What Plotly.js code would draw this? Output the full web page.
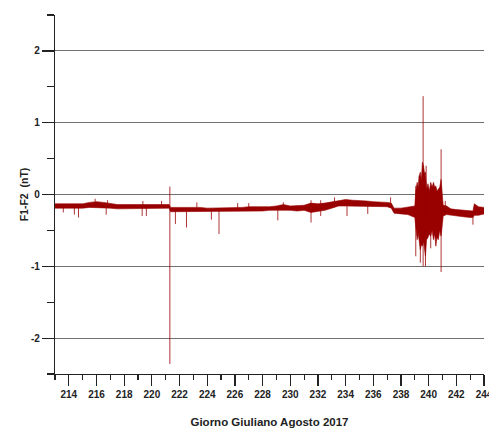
<!DOCTYPE html>
<html>
<head>
<meta charset="utf-8">
<script src="https://cdn.plot.ly/plotly-3.0.1.min.js"></script>
<style>html,body{margin:0;padding:0;background:#fff;}#chart{width:489px;height:428px;}</style>
</head>
<body>
<div id="chart"></div>
<script>
// Envelope of the F1-F2 record (Julian day, lower edge, upper edge), nT
var bandDays = [213.0,213.5,214.0,214.5,215.0,215.5,216.0,216.5,217.0,217.5,218.0,218.5,219.0,219.5,220.0,220.5,221.0,221.25,
  221.35,221.5,222.0,222.5,223.0,223.5,224.0,224.5,225.0,225.5,226.0,226.5,227.0,227.5,228.0,228.5,229.0,229.5,230.0,230.5,231.0,
  231.5,232.0,232.5,233.0,233.5,234.0,234.5,235.0,235.5,236.0,236.5,237.0,237.3,237.5,238.0,238.5,
  239.0,239.07,239.17,239.25,239.3,239.4,239.47,239.55,239.63,239.7,239.77,239.85,239.95,240.05,240.15,240.25,240.35,240.44,
  240.52,240.6,240.7,240.8,240.9,241.0,241.05,241.3,241.6,242.0,242.5,243.0,243.2,243.3,243.6,244.0];
var bandLow = [-0.19,-0.19,-0.20,-0.20,-0.19,-0.18,-0.18,-0.18,-0.19,-0.20,-0.20,-0.20,-0.20,-0.20,-0.19,-0.19,-0.19,-0.19,
  -0.24,-0.24,-0.24,-0.24,-0.23,-0.24,-0.24,-0.24,-0.24,-0.24,-0.24,-0.24,-0.23,-0.23,-0.23,-0.22,-0.22,-0.21,-0.22,-0.23,-0.22,
  -0.25,-0.24,-0.22,-0.19,-0.16,-0.16,-0.16,-0.16,-0.17,-0.17,-0.17,-0.17,-0.19,-0.26,-0.27,-0.28,
  -0.32,-0.45,-0.63,-0.55,-0.63,-0.77,-0.70,-0.72,-0.65,-0.80,-0.86,-0.63,-0.60,-0.55,-0.58,-0.50,-0.63,-0.55,
  -0.72,-0.60,-0.63,-0.50,-0.58,-0.40,-0.30,-0.28,-0.29,-0.30,-0.31,-0.32,-0.32,-0.29,-0.29,-0.27];
var bandHigh = [-0.13,-0.13,-0.14,-0.14,-0.13,-0.11,-0.10,-0.11,-0.13,-0.14,-0.14,-0.14,-0.14,-0.14,-0.14,-0.13,-0.13,-0.14,
  -0.18,-0.18,-0.18,-0.18,-0.17,-0.18,-0.19,-0.19,-0.19,-0.19,-0.18,-0.18,-0.17,-0.17,-0.18,-0.17,-0.16,-0.14,-0.16,-0.16,-0.15,
  -0.12,-0.13,-0.12,-0.10,-0.08,-0.07,-0.08,-0.08,-0.09,-0.10,-0.10,-0.11,-0.12,-0.19,-0.19,-0.18,
  -0.16,0.05,0.17,0.10,0.25,0.31,0.20,0.45,0.40,0.30,0.31,0.07,0.15,0.05,0.17,0.10,0.17,0.10,
  0.12,0.05,0.07,0.10,0.21,0.00,-0.15,-0.16,-0.20,-0.21,-0.22,-0.22,-0.23,-0.13,-0.17,-0.18];

// Isolated spikes (Julian day, bottom, top), nT
var spikeDays = [221.3,239.6,240.9,213.6,214.4,214.7,215.9,216.7,216.8,219.3,219.35,219.6,220.7,221.7,222.5,223.25,224.3,224.85,
  226.2,227.0,229.1,229.5,231.5,232.2,233.2,234.1,235.6,237.25,243.2,
  239.07,239.4,239.77,239.82,240.15,241.2];
var spikeLow = [-2.36,-1.00,-1.08,-0.25,-0.28,-0.32,-0.15,-0.28,-0.16,-0.30,-0.16,-0.30,-0.16,-0.41,-0.46,-0.18,-0.35,-0.55,
  -0.20,-0.18,-0.36,-0.20,-0.39,-0.30,-0.15,-0.30,-0.27,-0.14,-0.42,
  -0.86,-0.95,-1.00,-0.30,-0.75,-0.28];
var spikeHigh = [0.11,1.37,0.63,-0.16,-0.17,-0.17,-0.06,-0.16,-0.08,-0.17,-0.09,-0.17,-0.09,-0.20,-0.20,-0.11,-0.20,-0.20,
  -0.12,-0.12,-0.18,-0.11,-0.08,-0.08,-0.04,-0.12,-0.12,-0.04,-0.25,
  0.12,0.20,0.20,0.40,0.10,-0.09];

var yTickVals = [-2, -1, 0, 1, 2];
var yTickText = ['-2', '-1', '0', '1', '2'];

var xTitle = 'Giorno Giuliano Agosto 2017';
var yTitle = 'F1-F2\u00a0 (nT)';

var red = '#990000';
var sx = [], sy = [];
for (var i = 0; i < spikeDays.length; i++) {
  sx.push(spikeDays[i], spikeDays[i], null);
  sy.push(spikeLow[i], spikeHigh[i], null);
}

var traces = [
  {x: bandDays, y: bandLow, mode: 'lines', line: {color: red, width: 0.6}, hoverinfo: 'skip'},
  {x: bandDays, y: bandHigh, mode: 'lines', fill: 'tonexty', fillcolor: red, line: {color: red, width: 0.6}, hoverinfo: 'skip'},
  {x: sx, y: sy, mode: 'lines', line: {color: red, width: 0.8}, connectgaps: false, hoverinfo: 'skip'}
];

var axisColor = '#222';
var fontFam = 'Liberation Sans, Arial, sans-serif';
var tickFont = {family: fontFam, size: 10, color: axisColor, weight: 'bold'};
var layout = {
  width: 489, height: 428,
  margin: {l: 55, r: 5, t: 15, b: 54},
  paper_bgcolor: '#fff', plot_bgcolor: '#fff',
  showlegend: false,
  xaxis: {
    range: [213, 244], dtick: 2, tick0: 214,
    ticks: 'outside', ticklen: 11, tickwidth: 1.2, tickcolor: axisColor,
    showline: true, linecolor: axisColor, linewidth: 1.2,
    showgrid: false, zeroline: false,
    tickfont: tickFont, ticklabeloverflow: 'allow',
    minor: {dtick: 1, tick0: 213, ticks: 'outside', ticklen: 5, tickwidth: 1.2, tickcolor: axisColor, showgrid: false},
    title: {text: xTitle, standoff: 18, font: {family: fontFam, size: 11.5, color: axisColor, weight: 'bold'}}
  },
  yaxis: {
    range: [-2.5, 2.5], tickmode: 'array', tickvals: yTickVals, ticktext: yTickText,
    ticks: 'outside', ticklen: 12, tickwidth: 1.2, tickcolor: axisColor,
    showline: true, linecolor: axisColor, linewidth: 1.2,
    showgrid: true, gridcolor: '#707070', gridwidth: 1, zeroline: false,
    tickfont: tickFont,
    minor: {dtick: 0.5, tick0: 0, ticks: 'outside', ticklen: 7, tickwidth: 1.2, tickcolor: axisColor, showgrid: false},
    title: {text: yTitle, standoff: 0, font: {family: fontFam, size: 10.5, color: axisColor, weight: 'bold'}}
  }
};

Plotly.newPlot('chart', traces, layout, {staticPlot: true, displayModeBar: false});
</script>
</body>
</html>
